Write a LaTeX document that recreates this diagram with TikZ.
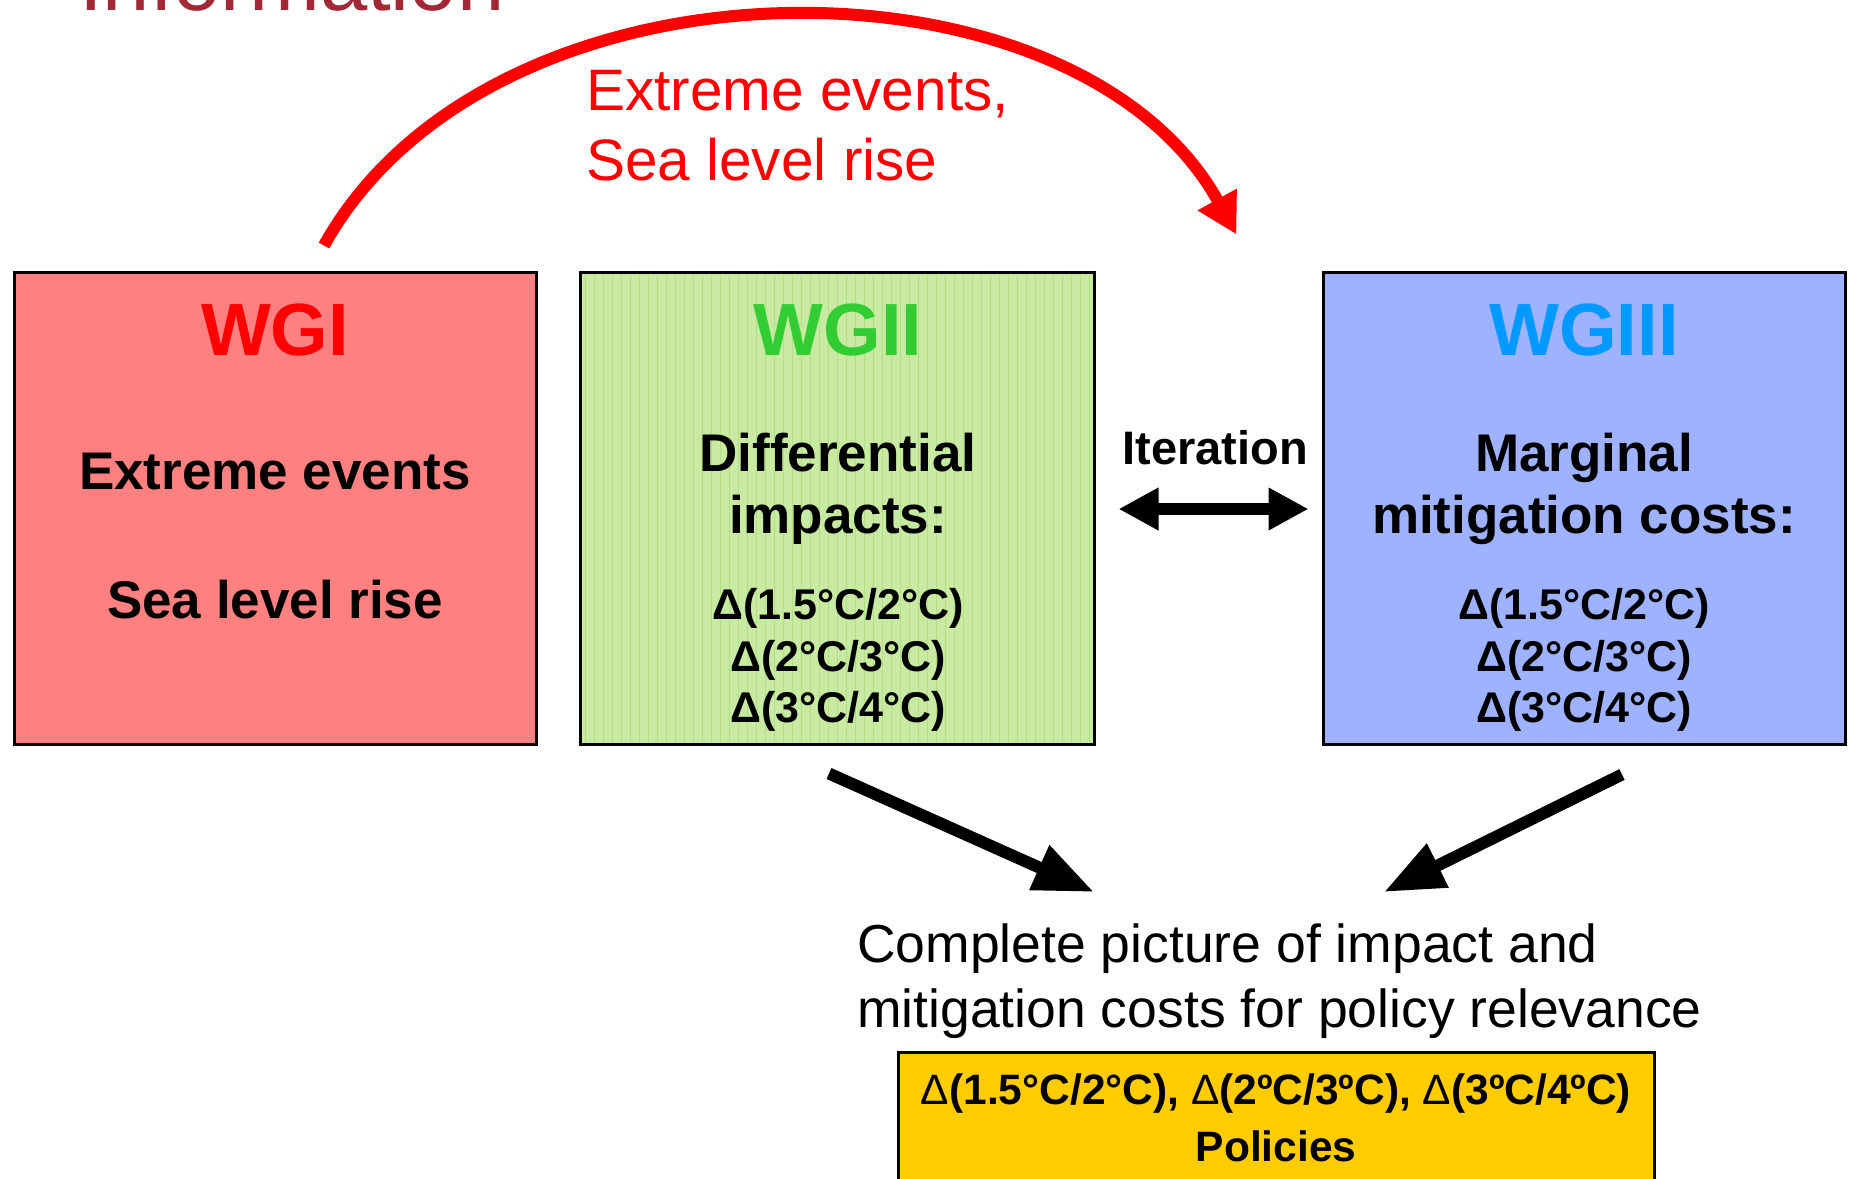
\documentclass[tikz,border=0pt]{standalone}
\usepackage{fontspec}
\setmainfont{Liberation Sans}
\usetikzlibrary{arrows.meta,calc,positioning,patterns.meta}
\definecolor{wgifill}{RGB}{255,128,128}
\definecolor{wgiifill}{RGB}{200,234,162}
\definecolor{wgiiline}{RGB}{178,224,130}
\definecolor{wgiiifill}{RGB}{158,178,255}
\definecolor{wgired}{RGB}{255,0,0}
\definecolor{wggreen}{RGB}{50,205,50}
\definecolor{wgblue}{RGB}{0,153,255}
\definecolor{policyyellow}{RGB}{255,204,0}
\definecolor{infomaroon}{RGB}{160,40,55}
\tikzset{
    wgbox/.style={draw=black, line width=3pt, inner sep=0pt, minimum height=472pt},
    wgtitle/.style={font=\fontsize{74}{80}\selectfont\bfseries},
    wgtext/.style={font=\fontsize{53}{62}\selectfont\bfseries, align=center},
    deltas/.style={font=\fontsize{43}{51.5}\selectfont\bfseries, align=center},
    bigarrow/.style={line width=12pt, -{Triangle[length=60pt,width=46pt]}},
  }

\begin{document}
\begin{tikzpicture}[x=1pt,y=-1pt]
  \useasboundingbox (0,0) rectangle (1849,1178);
  \clip (0,0) rectangle (1849,1178);
  %the three working groups
  \node[wgbox, fill=wgifill, minimum width=522pt] (wgi) at (275,508) {};
  \node[wgbox, preaction={fill=wgiifill}, pattern={Lines[angle=90,distance=9pt,line width=1pt]},
        pattern color=wgiiline, minimum width=514pt] (wgii) at (837,508) {};
  \node[wgbox, fill=wgiiifill, minimum width=522pt] (wgiii) at (1584,508) {};
  \node[wgtitle, text=wgired] (wgititle) at (275,330) {WGI};
  \node[wgtitle, text=wggreen] (wgiititle) at (838,330) {WGII};
  \node[wgtitle, text=wgblue] (wgiiititle) at (1584,330) {WGIII};
  \node[wgtext] (wgievents) at (275,472) {Extreme events};
  \node[wgtext] (wgisea) at (275,600) {Sea level rise};
  \node[wgtext] (wgiiimpacts) at (838,489) {Differential\\impacts:};
  \node[deltas] (wgiideltas) at (838,660) {Δ(1.5°C/2°C)\\Δ(2°C/3°C)\\Δ(3°C/4°C)};
  \node[wgtext] (wgiiicosts) at (1584,489) {Marginal\\mitigation costs:};
  \node[deltas] (wgiiideltas) at (1584,660) {Δ(1.5°C/2°C)\\Δ(2°C/3°C)\\Δ(3°C/4°C)};
  %iteration between WGII and WGIII
  \node[font=\fontsize{47}{56}\selectfont\bfseries] (iterlabel) at (1215,448) {Iteration};
  \draw[line width=12pt, {Triangle[length=40pt,width=40pt]}-{Triangle[length=40pt,width=40pt]}]
        ($(wgii.east)+(24,1)$) -- ($(wgiii.west)+(-13,1)$);
  %information from WGI
  \node[anchor=base west, inner sep=0pt, text=infomaroon, font=\fontsize{85}{92}\selectfont] (infotitle) at (79,10) {Information};
  \node[anchor=north west, inner sep=0pt, text=wgired, align=left, font=\fontsize{58.5}{70}\selectfont] (redlabel) at (586,70) {Extreme events,\\Sea level rise};
  \draw[line width=12pt, wgired, -{Triangle[length=40pt,width=42pt]}]
        ($(wgi.north)+(49,-25)$) .. controls (492,-57) and (1075,-57) .. ($(wgii.north east)+(142,-37)$);
  %summary
  \node[anchor=north west, inner sep=0pt, align=left, font=\fontsize{53.5}{65}\selectfont] (summary) at (857,924)
        {Complete picture of impact and\\mitigation costs for policy relevance};
  \node[draw=black, line width=3pt, fill=policyyellow, inner sep=0pt, minimum width=756pt, minimum height=131pt,
        align=center, font=\fontsize{42.5}{57}\selectfont\bfseries] (policies) at (1276,1117.5)
        {{\mdseries Δ}(1.5°C/2°C), {\mdseries Δ}(2ºC/3ºC), {\mdseries Δ}(3ºC/4ºC)\\Policies};
  \draw[bigarrow] ($(wgii.south)+(-8,29)$) -- ($(summary.north west)+(237,-32)$);
  \draw[bigarrow] ($(wgiii.south)+(38,29)$) -- ($(summary.north west)+(527,-32)$);
\end{tikzpicture}
\end{document}
